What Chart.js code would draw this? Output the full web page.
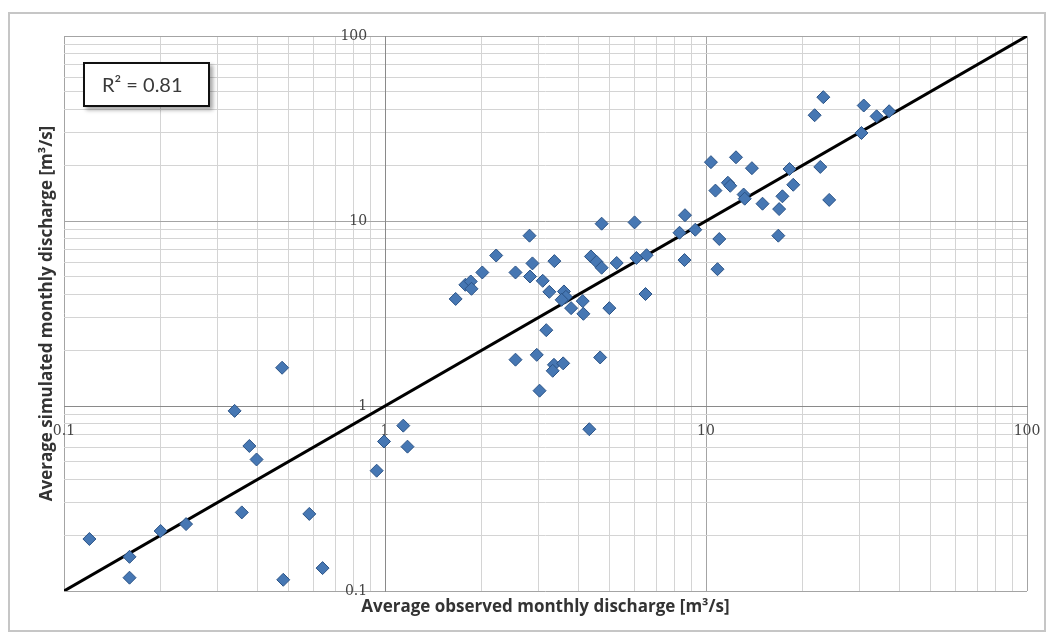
<!DOCTYPE html>
<html lang="en">
<head>
  <meta charset="UTF-8">
  <title>Observed vs simulated monthly discharge</title>
  <script src="https://cdn.jsdelivr.net/npm/chart.js@4.4.1/dist/chart.umd.min.js"></script>
  <style>
    body { margin: 0; background: #fff; }
    .frame { position: relative; width: 1052px; height: 640px; overflow: hidden; }
    .outline {
      position: absolute; left: 8px; top: 12px; width: 1038px; height: 620px;
      border: 2px solid #c6c6c6; box-sizing: border-box;
    }
    .chart-box { position: absolute; left: 0; top: 0; width: 1052px; height: 640px; }
    .r2 {
      position: absolute; left: 83px; top: 62px; width: 127px; height: 45px;
      box-sizing: border-box; border: 2.5px solid #111; background: #fff;
      box-shadow: 3px 3px 4px rgba(0,0,0,.35);
      font: 20px Lato, sans-serif; color: #3a3a3a;
      line-height: 40px; padding-left: 17px;
    }
  </style>
</head>
<body>
  <div class="frame">
    <div class="outline"></div>
    <div class="chart-box"><canvas id="qChart"></canvas></div>
    <div class="r2">R² = 0.81</div>
  </div>
  <script>
    // observed (x) and simulated (y) monthly discharge, m3/s
    const observed = [
      0.12, 0.16, 0.16, 0.20, 0.24, 0.34, 0.378, 0.398, 0.358, 0.482, 0.581, 0.639, 0.942, 0.993, 1.14, 1.175, 0.478,
      1.66, 1.78, 1.85, 1.86, 2.01, 2.22, 2.55, 2.82, 2.88, 2.83, 3.37, 3.10, 3.25, 3.61, 3.66, 3.55, 3.80, 4.13, 4.15,
      5.00, 4.38, 4.56, 4.73, 4.73, 5.27, 5.99, 6.07, 6.53, 6.48, 3.18, 2.55, 2.97, 3.36, 3.33, 3.59, 4.68, 3.03, 4.33,
      8.60, 8.27, 9.26, 11.0, 10.86, 8.57, 10.36, 12.4, 13.9, 18.2, 22.7, 18.7, 10.7, 11.7, 11.9, 13.1, 13.2, 15.0,
      17.3, 16.9, 24.2, 16.8, 23.2, 21.8, 31.0, 34.0, 37.2, 30.5
    ];
    const simulated = [
      0.191, 0.153, 0.118, 0.211, 0.230, 0.941, 0.608, 0.514, 0.266, 0.115, 0.261, 0.133, 0.447, 0.643, 0.783, 0.603, 1.61,
      3.79, 4.52, 4.71, 4.30, 5.27, 6.51, 5.27, 8.33, 5.90, 5.01, 6.07, 4.75, 4.14, 4.16, 3.89, 3.75, 3.38, 3.69, 3.15,
      3.38, 6.43, 6.02, 5.59, 9.67, 5.93, 9.83, 6.31, 6.53, 4.03, 2.57, 1.78, 1.89, 1.67, 1.55, 1.70, 1.83, 1.21, 0.749,
      10.75, 8.64, 8.97, 7.99, 5.49, 6.15, 20.8, 22.1, 19.3, 19.1, 19.6, 15.7, 14.6, 16.1, 15.5, 13.9, 13.2, 12.4,
      13.6, 11.6, 13.0, 8.33, 46.7, 37.3, 42.1, 36.8, 39.2, 29.9
    ];

    // 1:1 line
    const fitX = [0.1, 100];
    const fitY = [0.1, 100];

    // log axes: labelled decades and minor steps
    const majorTicks = [0.1, 1, 10, 100];
    const tickLabels = ['0.1', '1', '10', '100'];
    const minorSteps = [2, 3, 4, 5, 6, 7, 8, 9];

    const xTitle = 'Average observed monthly discharge [m³/s]';
    const yTitle = 'Average simulated monthly discharge [m³/s]';

    const gridValues = [];
    majorTicks.forEach((m, i) => {
      gridValues.push(m);
      if (i < majorTicks.length - 1) {
        minorSteps.forEach(s => gridValues.push(+(m * s).toPrecision(3)));
      }
    });

    function majorIndex(v) {
      return majorTicks.findIndex(m => Math.abs(m - v) < m * 1e-6);
    }

    const tickFont = { family: '"DejaVu Serif", serif', size: 14 };
    const tickColor = '#444';

    // axis crossing at (1, 1); the y labels ignore padding there, so they get
    // two figure spaces on the right to sit clear of the axis line
    function logAxis(pos, pad, tail) {
      return {
        type: 'logarithmic',
        min: 0.1,
        max: 100,
        position: pos,
        afterBuildTicks: s => { s.ticks = gridValues.map(v => ({ value: v })); },
        afterFit: s => { s.paddingLeft = 0; s.paddingRight = 0; },
        ticks: {
          autoSkip: false,
          maxRotation: 0,
          padding: pad,
          font: tickFont,
          color: tickColor,
          callback: v => {
            const i = majorIndex(v);
            return i < 0 ? '' : tickLabels[i] + tail;
          }
        },
        grid: {
          drawTicks: false,
          color: c => (c.tick && majorIndex(c.tick.value) >= 0) ? '#a4a4a4' : '#d4d4d4',
          lineWidth: 1
        },
        border: { display: true, color: '#8a8a8a' }
      };
    }

    const axisTitles = {
      id: 'axisTitles',
      afterDraw(chart) {
        const { ctx, chartArea: a } = chart;
        ctx.save();
        ctx.fillStyle = '#333';
        ctx.font = 'bold 17px "Open Sans", sans-serif';
        ctx.textAlign = 'center';
        ctx.textBaseline = 'middle';
        ctx.fillText(xTitle, (a.left + a.right) / 2, a.bottom + 16);
        ctx.translate(a.left - 17, (a.top + a.bottom) / 2);
        ctx.rotate(-Math.PI / 2);
        ctx.fillText(yTitle, 0, 0);
        ctx.restore();
      }
    };

    new Chart(document.getElementById('qChart'), {
      data: {
        datasets: [
          {
            type: 'scatter',
            label: 'Monthly discharge',
            data: observed.map((x, i) => ({ x: x, y: simulated[i] })),
            pointStyle: 'rectRot',
            pointRadius: 6.5,
            backgroundColor: '#4677b3',
            borderColor: '#2b5386',
            borderWidth: 1,
            order: 1
          },
          {
            type: 'line',
            label: '1:1',
            data: fitX.map((x, i) => ({ x: x, y: fitY[i] })),
            borderColor: '#000',
            borderWidth: 3,
            pointRadius: 0,
            order: 2
          }
        ]
      },
      options: {
        responsive: true,
        maintainAspectRatio: false,
        animation: false,
        events: [],
        layout: { padding: { left: 64, top: 36, right: 25, bottom: 49 } },
        plugins: { legend: { display: false }, tooltip: { enabled: false } },
        scales: {
          x: logAxis({ y: 1 }, 17, ''),
          y: logAxis({ x: 1 }, 0, '\u2007\u2007')
        }
      },
      plugins: [axisTitles]
    });
  </script>
</body>
</html>
